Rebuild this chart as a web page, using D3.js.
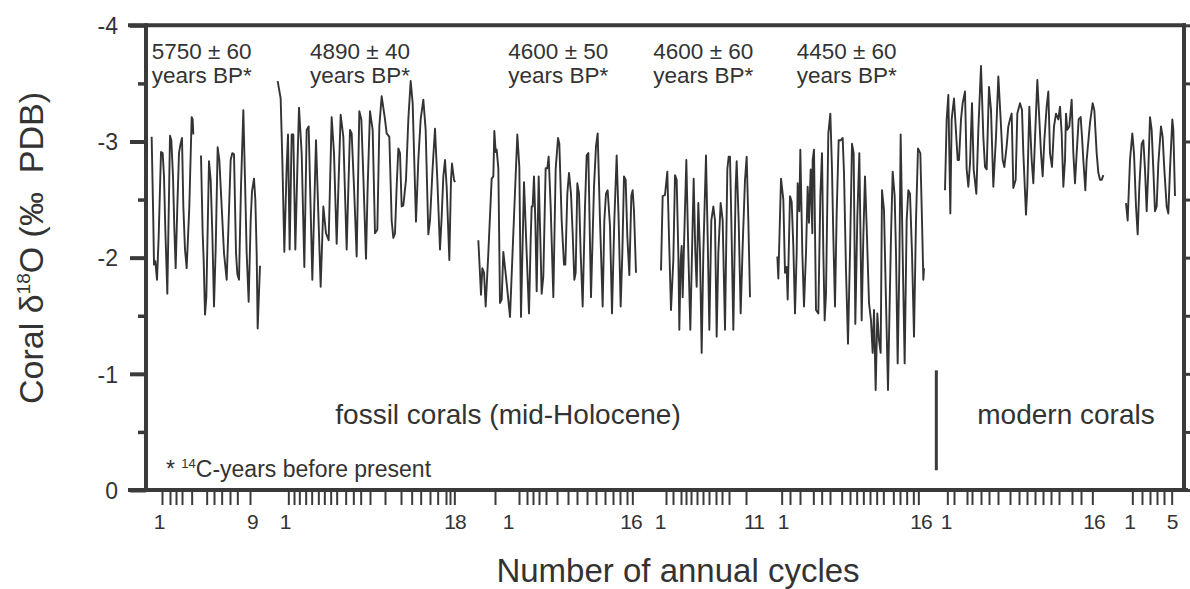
<!DOCTYPE html>
<html>
<head>
<meta charset="utf-8">
<script src="https://cdn.jsdelivr.net/npm/d3@7"></script>
<style>
  html, body { margin: 0; padding: 0; background: #fff; }
  svg { display: block; }
  text { font-family: "Liberation Sans", Arial, sans-serif; fill: #333; white-space: pre; }
</style>
</head>
<body>
<svg id="chart" width="1190" height="589"></svg>
<script>
// ---- DATA (x = position along the composite cycle axis, v = coral d18O in permil PDB) ----
const seg1a = [[65,-3.04],[70,-2.30],[72,-1.94],[76,-1.97],[81,-1.81],[86,-2.18],[93,-2.91],[98,-2.90],[102,-2.70],[106,-2.24],[112,-1.69],[120,-3.05],[124,-3.01],[129,-2.70],[133,-2.25],[137,-1.91],[142,-2.44],[147,-2.90],[151,-2.97],[156,-3.03],[160,-2.44],[165,-2.07],[170,-1.91],[178,-2.44],[185,-3.21],[188,-3.19],[190,-3.06]];
const seg1b = [[213,-2.88],[218,-2.21],[221,-1.98],[225,-1.51],[229,-1.66],[237,-2.83],[242,-2.67],[247,-2.21],[252,-1.58],[257,-2.07],[263,-2.95],[268,-2.84],[275,-2.44],[282,-2.04],[290,-1.81],[296,-2.32],[302,-2.84],[307,-2.90],[312,-2.89],[318,-2.04],[322,-1.86],[327,-1.81],[333,-2.61],[340,-3.27],[345,-2.67],[350,-2.04],[356,-1.62],[362,-2.32],[366,-2.57],[372,-2.68],[376,-2.50],[380,-2.04],[383,-1.39],[390,-1.93]];
const seg2 = [[443,-3.52],[452,-3.37],[457,-2.84],[463,-2.05],[470,-2.78],[474,-3.06],[479,-2.07],[485,-3.06],[490,-3.06],[496,-2.07],[502,-2.76],[507,-3.29],[515,-2.90],[523,-1.92],[530,-3.10],[536,-3.13],[547,-1.81],[558,-3.01],[572,-1.75],[580,-2.44],[588,-2.21],[596,-2.15],[605,-3.21],[612,-2.90],[620,-2.12],[632,-3.23],[640,-3.04],[650,-2.07],[660,-3.10],[665,-3.07],[672,-2.61],[680,-2.01],[688,-3.26],[694,-3.19],[700,-2.70],[708,-1.99],[713,-2.61],[720,-3.26],[728,-3.10],[735,-2.21],[742,-2.24],[748,-3.13],[755,-3.39],[765,-3.19],[770,-3.07],[778,-3.04],[785,-2.32],[790,-2.17],[795,-2.21],[800,-2.61],[805,-2.94],[810,-2.90],[815,-2.44],[820,-2.45],[828,-2.67],[835,-3.19],[842,-3.52],[848,-3.33],[855,-2.61],[858,-2.31],[865,-2.84],[872,-3.19],[880,-3.36],[887,-3.10],[895,-2.20],[900,-2.32],[908,-2.78],[915,-3.11],[922,-2.67],[930,-2.07],[935,-2.35],[940,-2.70],[945,-2.84],[950,-2.61],[958,-1.98],[963,-2.67],[966,-2.81],[972,-2.67],[975,-2.65]];
const seg3 = [[1045,-2.15],[1053,-1.68],[1057,-1.91],[1062,-1.87],[1067,-1.58],[1075,-2.04],[1085,-2.68],[1090,-2.70],[1093,-3.09],[1097,-2.91],[1100,-2.93],[1105,-2.77],[1110,-1.61],[1115,-1.64],[1120,-2.05],[1130,-1.78],[1140,-1.49],[1150,-2.21],[1162,-3.06],[1168,-2.78],[1173,-1.49],[1182,-2.65],[1190,-2.04],[1197,-1.52],[1202,-2.15],[1205,-2.44],[1208,-2.44],[1212,-2.70],[1216,-2.32],[1220,-1.71],[1226,-2.70],[1230,-2.27],[1235,-1.69],[1240,-1.84],[1247,-2.77],[1252,-2.77],[1256,-2.87],[1262,-2.44],[1270,-1.66],[1277,-2.76],[1284,-3.03],[1288,-2.98],[1295,-2.32],[1302,-1.94],[1306,-1.94],[1312,-2.55],[1317,-2.73],[1323,-2.55],[1328,-2.21],[1333,-1.81],[1337,-1.87],[1342,-2.64],[1347,-2.55],[1352,-2.04],[1358,-1.58],[1365,-2.44],[1370,-2.88],[1375,-2.90],[1383,-1.66],[1392,-2.61],[1398,-2.96],[1403,-3.07],[1410,-2.32],[1418,-1.58],[1423,-2.32],[1428,-2.55],[1433,-2.58],[1440,-2.27],[1446,-1.52],[1453,-2.32],[1460,-2.88],[1466,-2.32],[1472,-1.58],[1477,-2.04],[1482,-2.70],[1487,-2.67],[1492,-2.18],[1498,-1.85],[1504,-2.53],[1508,-2.58],[1512,-2.40],[1518,-1.87]];
const seg4 = [[1593,-1.89],[1598,-2.53],[1605,-2.54],[1612,-2.74],[1617,-2.18],[1623,-1.55],[1630,-1.98],[1635,-2.71],[1640,-2.67],[1645,-2.04],[1648,-1.38],[1652,-1.98],[1655,-2.10],[1658,-1.66],[1662,-2.10],[1669,-2.84],[1675,-2.04],[1681,-1.38],[1686,-2.04],[1691,-2.68],[1696,-2.04],[1700,-1.75],[1705,-2.47],[1710,-2.04],[1715,-1.18],[1720,-2.04],[1728,-2.88],[1733,-2.18],[1738,-1.38],[1744,-2.32],[1750,-2.44],[1755,-2.32],[1760,-1.32],[1765,-2.04],[1772,-2.47],[1778,-2.32],[1785,-1.38],[1792,-2.76],[1796,-2.87],[1800,-2.87],[1804,-2.32],[1810,-1.38],[1817,-2.61],[1820,-2.83],[1826,-2.32],[1832,-1.52],[1838,-2.10],[1845,-2.67],[1850,-2.87],[1855,-2.32],[1860,-1.66]];
const seg5 = [[1942,-2.01],[1945,-1.82],[1953,-2.68],[1960,-2.50],[1965,-1.87],[1970,-1.92],[1973,-1.64],[1980,-2.53],[1985,-2.48],[1990,-2.10],[1995,-1.52],[2000,-2.04],[2003,-2.64],[2008,-2.40],[2011,-2.93],[2017,-2.04],[2022,-1.58],[2028,-2.04],[2033,-2.61],[2037,-2.30],[2042,-2.76],[2047,-2.21],[2048,-2.84],[2052,-2.93],[2058,-1.55],[2065,-1.52],[2071,-2.53],[2076,-2.90],[2080,-2.04],[2084,-1.46],[2088,-1.69],[2095,-3.07],[2101,-3.24],[2106,-2.76],[2110,-2.18],[2115,-1.58],[2120,-2.38],[2126,-3.01],[2132,-3.01],[2138,-3.03],[2142,-2.73],[2148,-1.89],[2154,-1.26],[2160,-2.04],[2166,-2.98],[2171,-2.90],[2176,-1.43],[2182,-2.35],[2188,-2.90],[2195,-1.46],[2200,-2.18],[2205,-2.70],[2210,-2.27],[2217,-1.61],[2223,-1.46],[2228,-1.18],[2232,-1.55],[2237,-0.86],[2242,-1.52],[2247,-1.29],[2252,-1.18],[2256,-2.58],[2262,-2.41],[2267,-1.75],[2274,-0.86],[2278,-1.46],[2283,-2.18],[2288,-2.74],[2294,-2.53],[2298,-2.04],[2303,-1.09],[2308,-1.92],[2312,-3.06],[2318,-2.04],[2324,-1.09],[2330,-2.32],[2335,-2.58],[2340,-2.55],[2346,-2.04],[2352,-1.32],[2358,-2.32],[2364,-2.94],[2371,-2.90],[2376,-2.32],[2380,-1.81],[2382,-1.91]];
const seg6 = [[2445,-2.58],[2450,-3.19],[2455,-3.40],[2461,-2.38],[2465,-3.19],[2472,-3.37],[2477,-3.13],[2483,-2.84],[2487,-2.84],[2493,-3.19],[2498,-3.33],[2505,-3.43],[2510,-2.76],[2515,-2.61],[2520,-2.81],[2526,-3.33],[2531,-2.76],[2539,-2.55],[2545,-3.10],[2553,-3.65],[2560,-3.04],[2565,-2.78],[2570,-2.76],[2577,-3.47],[2583,-3.27],[2590,-2.61],[2598,-3.04],[2605,-3.56],[2612,-3.19],[2618,-2.84],[2623,-2.78],[2630,-2.96],[2635,-3.13],[2640,-3.19],[2645,-3.24],[2650,-2.60],[2657,-2.67],[2662,-3.24],[2670,-3.33],[2676,-3.27],[2680,-2.90],[2688,-2.37],[2692,-2.61],[2698,-3.30],[2705,-2.84],[2710,-2.64],[2716,-3.10],[2722,-3.53],[2728,-3.19],[2733,-2.90],[2738,-2.70],[2743,-3.01],[2750,-3.30],[2755,-3.43],[2760,-2.90],[2766,-2.78],[2772,-3.13],[2778,-3.24],[2785,-3.19],[2790,-3.30],[2795,-3.07],[2800,-2.61],[2805,-2.84],[2808,-3.24],[2812,-3.10],[2818,-3.13],[2825,-3.36],[2830,-2.90],[2835,-2.64],[2840,-2.90],[2846,-3.19],[2852,-3.21],[2856,-3.04],[2860,-2.84],[2866,-2.58],[2870,-2.84],[2880,-3.16],[2888,-3.33],[2893,-3.27],[2900,-2.90],[2905,-2.73],[2910,-2.67],[2915,-2.67],[2920,-2.71]];
const seg7 = [[2988,-2.47],[2993,-2.32],[3000,-2.84],[3007,-3.07],[3012,-2.90],[3018,-2.44],[3023,-2.20],[3028,-2.61],[3035,-2.98],[3040,-3.01],[3045,-2.76],[3050,-2.40],[3055,-2.76],[3060,-3.21],[3065,-3.10],[3070,-2.76],[3075,-2.40],[3080,-2.44],[3085,-2.81],[3093,-3.13],[3098,-3.04],[3103,-2.76],[3110,-2.44],[3115,-2.38],[3120,-2.76],[3127,-3.19],[3130,-3.10],[3135,-2.53]];

// annual-cycle tick positions along the composite axis
const cycleTicks = [96,120,138,156,185,230,252,275,300,322,360,
  475,492,508,527,545,565,583,602,620,647,670,692,720,765,813,845,872,900,923,948,960,973,
  1095,1167,1191,1209,1227,1248,1281,1314,1341,1371,1398,1425,1449,1470,1491,1507,
  1608,1629,1653,1668,1683,1701,1719,1737,1758,1776,1797,1848,
  1955,1980,2010,2050,2075,2100,2135,2160,2180,2200,2220,2240,2260,2290,2310,2330,2350,2365,
  2452,2472,2511,2526,2553,2577,2604,2640,2667,2691,2715,2739,2763,2787,2826,2853,2887,
  3007,3036,3060,3081,3102,3125];
const cycleLabels = ["1","9","1","18","1","16","1","11","1","16","1","16","1","5"];
const cycleLabelPos = [87,367,465,975,1134,1503,1590,1872,1959,2373,2448,2892,2999,3126];

const yMajor = [-4,-3,-2,-1,0];
const yMinor = [-3.5,-2.5,-1.5,-0.5];
const yRight = [-4,-3.5,-3,-2.5,-2,-1.5,-1,-0.5,0];

const ageLabels = ["5750 \u00b1 60","4890 \u00b1 40","4600 \u00b1 50","4600 \u00b1 60","4450 \u00b1 60"];
const agePos = [65,540,1135,1570,2000];
const separator = {x: 2419, from: -1.03, to: -0.17};

// ---- CHART ----
const svg = d3.select("#chart");
const x = d3.scaleLinear().domain([0, 3165]).range([130, 1185]);
const y = d3.scaleLinear().domain([0, -4]).range([490, 25.3]);
const axisX = 146, rightX = 1184;
const ink = "#3a3a3a";

// data lines
const line = d3.line().x(d => x(d[0])).y(d => y(d[1]));
const segs = [seg1a, seg1b, seg2, seg3, seg4, seg5, seg6, seg7];
svg.append("g").selectAll("path").data(segs).join("path")
  .attr("d", line).attr("fill", "none").attr("stroke", "#333")
  .attr("stroke-width", 1.9).attr("stroke-linejoin", "round");

// left axis major + minor
const gl = svg.append("g").attr("transform", `translate(${axisX},0)`);
gl.call(d3.axisLeft(y).tickValues(yMajor).tickSize(16).tickPadding(12)
  .tickFormat(d => d === 0 ? "0" : String(d)));
gl.selectAll(".tick line").attr("stroke", ink).attr("stroke-width", 4);
gl.selectAll(".tick text").attr("font-size", 23).attr("fill", "#333")
  .style("font-family", '"Liberation Sans", Arial, sans-serif').attr("dy", "0.36em");
gl.select(".domain").remove();
const glm = svg.append("g").attr("transform", `translate(${axisX},0)`);
glm.call(d3.axisLeft(y).tickValues(yMinor).tickSize(8).tickFormat(""));
glm.selectAll(".tick line").attr("stroke", ink).attr("stroke-width", 3.5);
glm.select(".domain").remove();

// right axis ticks
const gr = svg.append("g").attr("transform", `translate(${rightX},0)`);
gr.call(d3.axisRight(y).tickValues(yRight).tickSize(7).tickFormat(""));
gr.selectAll(".tick line").attr("stroke", ink).attr("stroke-width", 3);
gr.select(".domain").remove();

// bottom cycle ticks
const gb = svg.append("g").attr("transform", `translate(0,${y(0)})`);
gb.call(d3.axisBottom(x).tickValues(cycleTicks).tickSize(15).tickFormat(""));
gb.selectAll(".tick line").attr("stroke", ink).attr("stroke-width", 2);
gb.select(".domain").remove();

// frame
const frame = svg.append("g").attr("stroke", ink).attr("stroke-width", 4).attr("stroke-linecap", "square");
frame.append("line").attr("x1", axisX).attr("x2", axisX).attr("y1", y(-4)).attr("y2", y(0));
frame.append("line").attr("x1", rightX).attr("x2", rightX).attr("y1", y(-4)).attr("y2", y(0));
frame.append("line").attr("x1", x(0)).attr("x2", rightX).attr("y1", y(-4)).attr("y2", y(-4));
frame.append("line").attr("x1", x(0)).attr("x2", rightX + 2).attr("y1", y(0)).attr("y2", y(0));

// separator between fossil and modern
svg.append("line").attr("x1", x(separator.x)).attr("x2", x(separator.x))
  .attr("y1", y(separator.from)).attr("y2", y(separator.to))
  .attr("stroke", ink).attr("stroke-width", 3);

// cycle labels
svg.append("g").selectAll("text").data(cycleLabels).join("text")
  .attr("x", (d, i) => x(cycleLabelPos[i])).attr("y", 529)
  .attr("text-anchor", "middle").attr("font-size", 21).attr("letter-spacing", -1)
  .text(d => d);

// age annotations
const ag = svg.append("g").selectAll("g").data(ageLabels).join("g");
ag.append("text").attr("x", (d, i) => x(agePos[i])).attr("y", 59).attr("font-size", 22.5).text(d => d);
ag.append("text").attr("x", (d, i) => x(agePos[i])).attr("y", 83).attr("font-size", 22.5).text("years BP*");

// group labels
svg.append("text").attr("x", 508).attr("y", 424).attr("text-anchor", "middle")
  .attr("font-size", 28).text("fossil corals (mid-Holocene)");
svg.append("text").attr("x", 1066).attr("y", 424).attr("text-anchor", "middle")
  .attr("font-size", 28).text("modern corals");

// footnote
const fn = svg.append("text").attr("x", 166).attr("y", 477).attr("font-size", 23);
fn.append("tspan").text("* ");
fn.append("tspan").attr("font-size", 13).attr("dy", -9).text("14");
fn.append("tspan").attr("dy", 9).text("C-years before present");

// axis titles
svg.append("text").attr("x", 678).attr("y", 582).attr("text-anchor", "middle")
  .attr("font-size", 33).text("Number of annual cycles");
const yt = svg.append("text").attr("transform", "translate(43,248) rotate(-90)")
  .attr("text-anchor", "middle").attr("font-size", 34);
yt.append("tspan").text("Coral \u03b4");
yt.append("tspan").attr("font-size", 19).attr("dy", -13).text("18");
yt.append("tspan").attr("dy", 13).text("O (\u2030  PDB)");
</script>
</body>
</html>
